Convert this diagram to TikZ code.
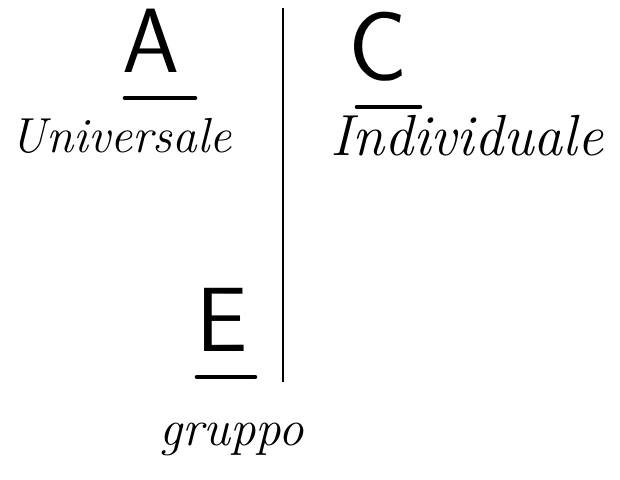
\documentclass[tikz,border=0pt]{standalone}
\usepackage{tikz}
\usetikzlibrary{positioning}
\tikzset{
  letter/.style={inner sep=0pt, anchor=base, font=\fontsize{52}{56}\selectfont\sffamily},
  word/.style={inner sep=0pt, anchor=base, font=\fontsize{28}{32}\selectfont\itshape},
  bar/.style={line width=2.6pt, line cap=round},
  divider/.style={line width=1.4pt}
}
\begin{document}
\begin{tikzpicture}[x=0.02cm,y=-0.02cm]
        \useasboundingbox (0,0) rectangle (620,480);
        \node[letter] (univ) at (151,72) {A};
        \node[letter, font=\fontsize{56}{60}\selectfont\sffamily] (indiv) at (378,80) {C};
        \node[letter] (grp) at (222,352) {E};
        \node[word] (univtxt) at (121,153) {Universale};
        \node[word, font=\fontsize{33}{38}\selectfont\itshape] (indivtxt) at (467,155) {Individuale};
        \node[word, font=\fontsize{29}{34}\selectfont\itshape] (grptxt) at (232,445) {gruppo};
        \coordinate (top) at (283,8);
        \coordinate (bottom) at (283,382);
        \draw[divider] (top) -- (bottom);
        \foreach \a/\b/\y in {125/195/98, 357/420/107, 197/255/377}
          \draw[bar] (\a,\y) -- (\b,\y);
      \end{tikzpicture}
\end{document}
